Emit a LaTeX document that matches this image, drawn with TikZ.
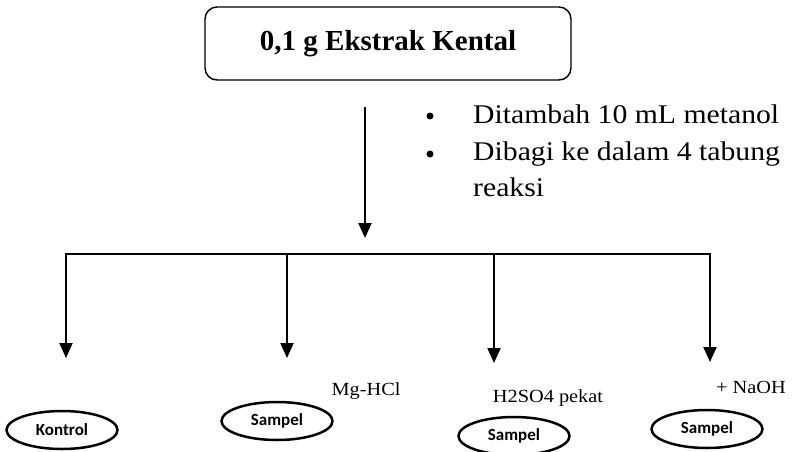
\documentclass[tikz,border=0pt]{standalone}
\usepackage{fontspec}
\setmainfont{Liberation Serif}
\newfontfamily\wideserif[FakeStretch=1.1]{Liberation Serif}
\newfontfamily\calib{Carlito}
\usetikzlibrary{arrows.meta,shapes.geometric}
\tikzset{
  titlebox/.style={draw, line width=1.4pt, rounded corners=12pt, minimum width=366pt, minimum height=73pt, inner sep=0pt,
    font=\bfseries\fontsize{29}{32}\selectfont},
  flowline/.style={line width=2pt},
  flowarrow/.style={line width=2pt, -{Triangle[width=13pt,length=15pt]}},
  tube/.style={draw, ellipse, line width=2.5pt, minimum width=111pt, minimum height=38pt, inner sep=0pt,
    font=\calib\bfseries\fontsize{17}{19}\selectfont},
  bigtxt/.style={anchor=base west, inner sep=0pt, font=\wideserif\fontsize{27}{30}\selectfont},
  bul/.style={circle, fill, inner sep=0pt, minimum size=7pt},
  smalltxt/.style={anchor=base, inner sep=0pt, font=\wideserif\fontsize{18.5}{20}\selectfont}
}
\begin{document}
\begin{tikzpicture}[x=1pt,y=1pt]
\useasboundingbox (0,0) rectangle (792,-451);
% title box
\node[titlebox] (top) at (388,-43.5) {0,1 g Ekstrak Kental};
% main arrow
\coordinate (mainstart) at (365,-107);
\coordinate (maintip) at (365,-238);
\draw[flowarrow] (mainstart) -- (maintip);
% bullet text
\node[bul] (b1) at (430,-116) {};
\node[bul] (b2) at (430,-154) {};
\node[bigtxt] (t1) at (473,-123) {Ditambah 10 mL metanol};
\node[bigtxt] (t2) at (473,-160) {Dibagi ke dalam 4 tabung};
\node[bigtxt] (t3) at (473,-196) {reaksi};
% horizontal bar
\coordinate (hl) at (65,-254);
\coordinate (hr) at (711,-254);
\draw[flowline] (hl) -- (hr);
% branch arrows
\coordinate (s1) at (66,-254);
\coordinate (s2) at (287,-254);
\coordinate (s3) at (494,-254);
\coordinate (s4) at (710,-254);
\coordinate (e1) at (66,-358);
\coordinate (e2) at (287,-358);
\coordinate (e3) at (494,-363);
\coordinate (e4) at (710,-362);
\draw[flowarrow] (s1) -- (e1);
\draw[flowarrow] (s2) -- (e2);
\draw[flowarrow] (s3) -- (e3);
\draw[flowarrow] (s4) -- (e4);
% labels
\node[smalltxt] (l2) at (366,-395) {Mg-HCl};
\node[smalltxt] (l3) at (548,-402) {H2SO4 pekat};
\node[smalltxt] (l4) at (751,-393) {+ NaOH};
% tubes
\node[tube] (k) at (62,-430) {Kontrol};
\node[tube] (p1) at (277,-421) {Sampel};
\node[tube] (p2) at (514,-436) {Sampel};
\node[tube] (p3) at (707,-429) {Sampel};
\end{tikzpicture}
\end{document}
